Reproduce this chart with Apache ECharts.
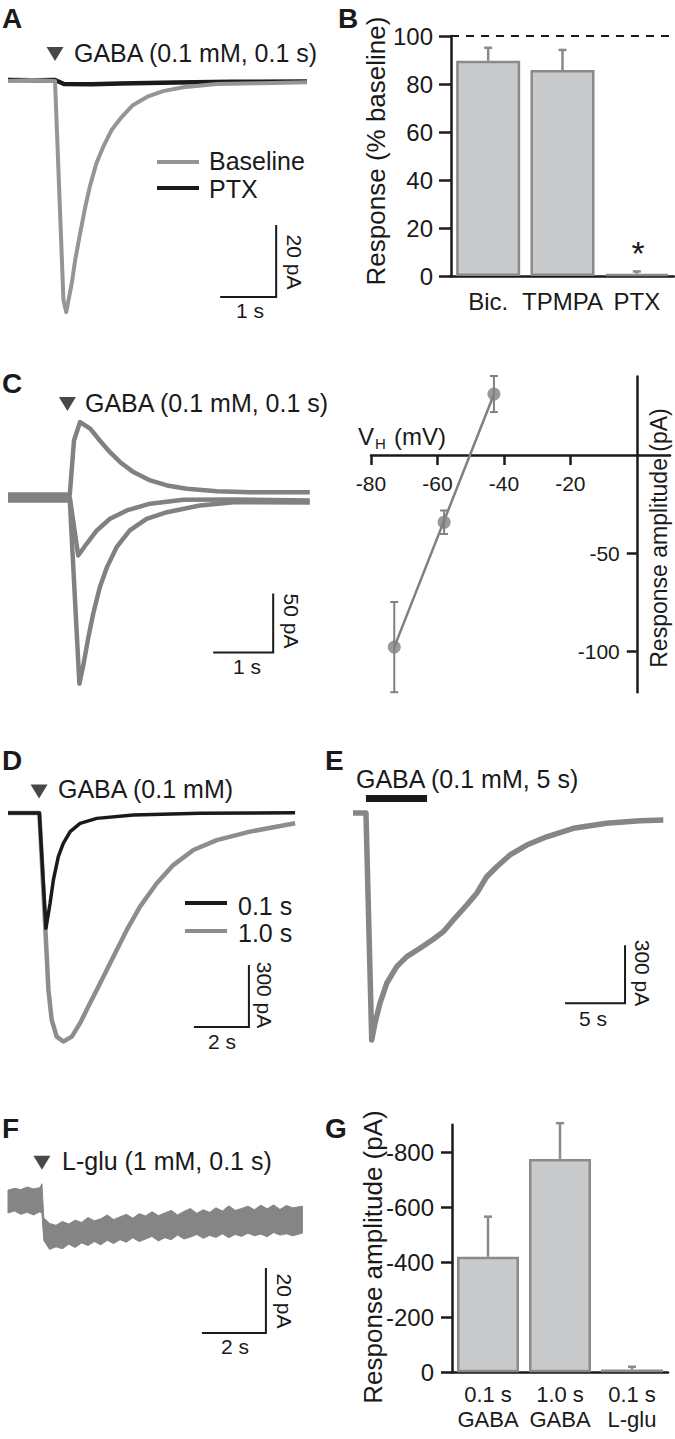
<!DOCTYPE html>
<html>
<head>
<meta charset="utf-8">
<title>GABA responses</title>
<script src="https://cdn.jsdelivr.net/npm/echarts@6/dist/echarts.min.js"></script>
<style>
  html, body { margin: 0; padding: 0; background: #fff; }
  #chart { width: 675px; height: 1439px; }
</style>
</head>
<body>
<div id="chart"></div>
<script>
// ---- data (time in s, current in pA) ----

// A: GABA 0.1 mM, 0.1 s - baseline vs PTX
const aBaseT = [0, 0.42, 0.84, 0.99, 1.04, 1.14, 1.2, 1.29, 1.38, 1.46, 1.58, 1.7, 1.85, 2.03, 2.23, 2.48, 2.77, 3.13, 3.73, 4.5, 5.34];
const aBaseI = [0, 0.3, 0, -60.8, -64.2, -56.1, -49.7, -42.2, -35, -29.4, -22.8, -18.3, -13.6, -10, -6.7, -4.4, -2.8, -1.7, -0.8, -0.6, -0.3];
const aPtxT = [0, 0.5, 0.84, 1.0, 1.5, 2.0, 3.0, 4.0, 5.34];
const aPtxI = [0.3, 0.2, 0.3, -0.8, -0.9, -0.7, -0.4, -0.2, -0.1];
const aStim = [0.84, 7.5];
const aScale = [4.79, -60, 1, 20]; // corner t, corner I, width (s), height (pA)

// B: % of baseline response
const bCats = ['Bic.', 'TPMPA', 'PTX'];
const bMean = [89.7, 85.8, 0.9];
const bErrTop = [95.1, 94.2, 1.9];

// C: responses at three holding potentials
const cUpT = [0, 1.03, 1.1, 1.2, 1.37, 1.53, 1.7, 1.87, 2.09, 2.37, 2.65, 2.98, 3.48, 4.03, 5.03];
const cUpI = [2.5, 2.5, 48.3, 63.9, 58.3, 48.3, 38.4, 29.9, 21.5, 14.4, 10.2, 7.4, 5.3, 4.5, 4.5];
const cMidT = [0, 1.03, 1.17, 1.31, 1.48, 1.7, 1.98, 2.37, 2.92, 3.76, 5.03];
const cMidI = [0, 0, -49.2, -39.3, -28, -18.1, -11, -5.3, -2, -1.7, -2.5];
const cLowT = [0, 1.03, 1.19, 1.26, 1.34, 1.42, 1.53, 1.65, 1.81, 2.03, 2.31, 2.65, 3.2, 3.76, 5.03];
const cLowI = [-2.5, -2.5, -158, -141, -118.5, -98.6, -76.1, -59.1, -42.2, -28, -18.1, -12.5, -6.8, -4, -4.2];
const cStim = [0.99, 79.3];
const cScale = [4.42, -131.5, 1, 50];

// C right: I-V relation
const ivV = [-73, -58, -43];
const ivI = [-98, -34.3, 31.1];
const ivErr = [23, 6, 9.2];
const fitV = [-73, -43];
const fitI = [-98, 31];
const ivTicksX = [-80, -60, -40, -20];
const ivTicksY = [-50, -100];

// D: 0.1 s vs 1.0 s application
const dShortT = [0, 1.14, 1.38, 1.53, 1.65, 1.83, 2.01, 2.26, 2.62, 3.23, 4.56, 6.98, 10.44];
const dShortI = [0, 0, -558, -437, -324, -211, -147, -90, -50, -26, -10, -1.5, 1.5];
const dLongT = [0, 1.14, 1.41, 1.47, 1.59, 1.77, 2.01, 2.32, 2.62, 2.98, 3.35, 3.83, 4.32, 4.8, 5.41, 6.01, 6.74, 7.59, 8.8, 10.44];
const dLongI = [0, 0, -695, -856, -1001, -1082, -1106, -1082, -1017, -921, -824, -695, -566, -453, -340, -252, -179, -131, -90, -50];
const dStim = [1.13, 104];
const dScale = [8.76, -1035, 2, 300];

// E: 5 s application
const eT = [0, 1.08, 1.56, 1.83, 2.25, 2.81, 3.64, 4.48, 5.58, 6.69, 7.53, 8.36, 9.48, 10.31, 11.14, 11.98, 13.08, 14.48, 16.14, 18.36, 21.14, 23.92, 25.86];
const eI = [0, 0, -1174, -1088, -984, -881, -795, -743, -700, -653, -614, -554, -476, -415, -330, -278, -217, -166, -123, -79, -53, -40, -36];
const ePuffT = [1.08, 6.17];
const ePuffI = [75, 75];
const eScale = [22.67, -984, 5, 300];

// F: L-glu, noisy trace given as upper / lower envelope
const fT = [0, 0.2, 0.4, 0.6, 0.8, 1.0, 1.06, 1.12, 1.3, 1.5, 1.7, 1.9, 2.1, 2.3, 2.5, 2.7, 2.9, 3.1, 3.3, 3.5, 3.7, 3.9, 4.1, 4.3, 4.5, 4.7, 4.9, 5.1, 5.3, 5.5, 5.7, 5.9, 6.1, 6.3, 6.5, 6.7, 6.9, 7.1, 7.3, 7.5, 7.7, 7.9, 8.1, 8.3, 8.5, 8.7, 8.9, 9.2];
const fHigh = [3.0, 3.6, 3.2, 4.0, 3.4, 3.8, 5.0, -5.5, -7.2, -7.8, -6.6, -7.4, -6.2, -6.9, -5.4, -6.4, -5.8, -4.6, -6.0, -5.2, -4.4, -5.6, -4.2, -4.9, -3.6, -4.8, -4.0, -3.2, -4.6, -3.5, -2.6, -4.1, -3.0, -3.8, -2.4, -3.4, -1.8, -3.2, -2.6, -1.9, -3.0, -1.6, -2.7, -1.5, -2.9, -1.7, -2.4, -1.9];
const fLow = [-4.0, -3.4, -4.4, -3.8, -4.6, -3.6, -4.2, -12.5, -15.2, -14.4, -15.0, -13.6, -14.6, -13.2, -14.0, -12.8, -13.8, -12.4, -13.4, -12.2, -13.0, -11.6, -12.8, -12.0, -11.2, -12.6, -11.6, -12.2, -10.8, -12.0, -11.4, -10.6, -11.8, -10.9, -11.5, -10.4, -11.6, -10.6, -11.2, -10.2, -11.0, -10.5, -11.3, -10.0, -10.8, -10.4, -11.0, -10.2];
const fStim = [1.06, 11.5];
const fScale = [8.06, -40.9, 2, 20];

// G: peak amplitudes
const gCats = ['0.1 s\nGABA', '1.0 s\nGABA', '0.1 s\nL-glu'];
const gMean = [-420, -776, -10];
const gErrTop = [-566, -906, -20];
const gTicks = [0, -200, -400, -600, -800];

// ---- styling ----
const FONT = 'Liberation Sans';
const INK = '#1a1a1a';
const A_GRAY = '#959595';
const C_GRAY = '#818181';
const D_GRAY = '#8d8d8d';
const E_GRAY = '#868686';
const F_GRAY = '#858585';
const IV_GRAY = '#808080';
const BAR_FILL = '#c9cacc';
const BAR_EDGE = '#8a8a8a';

const pairs = (xs, ys) => xs.map((x, i) => [x, ys[i]]);

function hiddenX(grid, min, max) {
  return { type: 'value', gridIndex: grid, min, max, show: false };
}
function hiddenY(grid, min, max) {
  return { type: 'value', gridIndex: grid, min, max, show: false };
}

function trace(grid, T, I, color, width) {
  return {
    type: 'line', xAxisIndex: grid, yAxisIndex: grid,
    data: pairs(T, I), symbol: 'none', showSymbol: false, silent: true,
    lineStyle: { color, width, join: 'round' }
  };
}

function scaleBar(grid, s) {
  const [t, i, w, h] = s;
  return {
    type: 'line', xAxisIndex: grid, yAxisIndex: grid,
    data: [[t - w, i], [t, i], [t, i + h]], symbol: 'none', silent: true,
    lineStyle: { color: INK, width: 2, join: 'miter', cap: 'butt' }
  };
}

function stim(grid, p) {
  return {
    type: 'scatter', xAxisIndex: grid, yAxisIndex: grid, data: [p],
    symbol: 'triangle', symbolRotate: 180, symbolSize: [17, 14],
    itemStyle: { color: INK }, clip: false, silent: true
  };
}

// upper error whisker with a cap, for the bar charts
function barErr(params, api) {
  const p0 = api.coord([api.value(0), api.value(1)]);
  const p1 = api.coord([api.value(0), api.value(2)]);
  const st = { stroke: BAR_EDGE, lineWidth: 2.5 };
  return {
    type: 'group', children: [
      { type: 'line', shape: { x1: p0[0], y1: p0[1], x2: p1[0], y2: p1[1] }, style: st },
      { type: 'line', shape: { x1: p1[0] - 4, y1: p1[1], x2: p1[0] + 4, y2: p1[1] }, style: st }
    ]
  };
}

// symmetric error bar for the I-V points
function ivErrItem(params, api) {
  const v = api.value(0), m = api.value(1), e = api.value(2);
  const top = api.coord([v, m + e]);
  const bot = api.coord([v, m - e]);
  const st = { stroke: IV_GRAY, lineWidth: 2 };
  return {
    type: 'group', children: [
      { type: 'line', shape: { x1: top[0], y1: top[1], x2: bot[0], y2: bot[1] }, style: st },
      { type: 'line', shape: { x1: top[0] - 4, y1: top[1], x2: top[0] + 4, y2: top[1] }, style: st },
      { type: 'line', shape: { x1: bot[0] - 4, y1: bot[1], x2: bot[0] + 4, y2: bot[1] }, style: st }
    ]
  };
}

// noisy L-glu trace: one polygon between the upper and lower envelope
function fBand(params, api) {
  if (params.dataIndex !== 0) return null;
  const top = fT.map((t, i) => api.coord([t, fHigh[i]]));
  const bot = fT.map((t, i) => api.coord([t, fLow[i]])).reverse();
  return {
    type: 'polygon',
    shape: { points: top.concat(bot) },
    style: { fill: F_GRAY, stroke: F_GRAY, lineWidth: 1 }
  };
}

// ---- free text, legends ----
const graphics = [];
function txt(x, y, text, size, opt) {
  opt = opt || {};
  graphics.push({
    type: 'text', x, y, rotation: opt.rot || 0, silent: true,
    style: {
      text, fill: INK, fontSize: size, fontFamily: FONT,
      fontWeight: opt.bold ? 'bold' : 'normal',
      align: opt.align || 'left', verticalAlign: 'middle'
    }
  });
}
function key(x1, x2, y, color) {
  graphics.push({
    type: 'line', silent: true,
    shape: { x1, y1: y, x2, y2: y },
    style: { stroke: color, lineWidth: 4 }
  });
}

const UP = Math.PI / 2;
const DOWN = -Math.PI / 2;

// panel letters
txt(2, 18, 'A', 28, { bold: true });
txt(338, 18, 'B', 28, { bold: true });
txt(2, 383, 'C', 28, { bold: true });
txt(2, 760, 'D', 28, { bold: true });
txt(325, 760, 'E', 28, { bold: true });
txt(2, 1128, 'F', 28, { bold: true });
txt(325, 1128, 'G', 28, { bold: true });

// stimulus annotations
txt(74, 53, 'GABA (0.1 mM, 0.1 s)', 25);
txt(85, 403, 'GABA (0.1 mM, 0.1 s)', 25);
txt(58, 789, 'GABA (0.1 mM)', 25);
txt(356, 779, 'GABA (0.1 mM, 5 s)', 25);
txt(62, 1161, 'L-glu (1 mM, 0.1 s)', 25);

// legends
key(157, 199, 162, A_GRAY);
txt(209, 161, 'Baseline', 25);
key(157, 199, 188, INK);
txt(209, 189, 'PTX', 25);
key(185, 227, 903, INK);
txt(238, 906, '0.1 s', 25);
key(185, 227, 931, D_GRAY);
txt(238, 933, '1.0 s', 25);

// scale bar labels
txt(294, 262, '20 pA', 21, { rot: DOWN, align: 'center' });
txt(250, 310, '1 s', 21, { align: 'center' });
txt(291, 621, '50 pA', 21, { rot: DOWN, align: 'center' });
txt(247, 666, '1 s', 21, { align: 'center' });
txt(264, 995, '300 pA', 21, { rot: DOWN, align: 'center' });
txt(222, 1041, '2 s', 21, { align: 'center' });
txt(642, 973, '300 pA', 21, { rot: DOWN, align: 'center' });
txt(593, 1018, '5 s', 21, { align: 'center' });
txt(284, 1301, '20 pA', 21, { rot: DOWN, align: 'center' });
txt(235, 1346, '2 s', 21, { align: 'center' });

// axis titles
txt(376, 151, 'Response (% baseline)', 26, { rot: UP, align: 'center' });
txt(373, 1257, 'Response amplitude (pA)', 26, { rot: UP, align: 'center' });
txt(659, 538, 'Response amplitude (pA)', 23, { rot: UP, align: 'center' });
txt(358, 436, 'V', 24);
txt(375, 443, 'H', 15);
txt(394, 436, '(mV)', 24);
txt(638, 253, '*', 34, { align: 'center' });

const axisLine = { show: true, lineStyle: { color: INK, width: 2.5 } };
const tickStyle = { color: INK, width: 2.5 };
const labelStyle = { color: INK, fontFamily: FONT, fontSize: 24 };

// I-V grid: the axes cross at (0 mV, 0 pA), set by offsets into the grid
const ivGrid = { left: 371, top: 376.6, width: 299, height: 315.6 };
const ivXMin = -80, ivXMax = 10, ivYMin = -121, ivYMax = 40;
const ivZeroX = ivGrid.width * (0 - ivXMin) / (ivXMax - ivXMin);
const ivZeroY = ivGrid.height * (ivYMax - 0) / (ivYMax - ivYMin);

const option = {
  animation: false,
  backgroundColor: '#fff',
  textStyle: { fontFamily: FONT, color: INK },
  grid: [
    { left: 8, top: 62, width: 304, height: 271 },          // 0 A
    { left: 451, top: 36, width: 223, height: 240 },        // 1 B
    { left: 8, top: 409, width: 304, height: 283 },         // 2 C traces
    ivGrid,                                                 // 3 C I-V
    { left: 8, top: 800.6, width: 290, height: 260.4 },     // 4 D
    { left: 353, top: 795.6, width: 312, height: 259 },     // 5 E
    { left: 8, top: 1180.5, width: 295, height: 165.75 },   // 6 F
    { left: 452, top: 1124.8, width: 216, height: 247.5 }   // 7 G
  ].map(g => Object.assign({ containLabel: false, outerBoundsMode: 'none' }, g)),
  xAxis: [
    hiddenX(0, 0, 5.43),
    {
      type: 'category', gridIndex: 1, data: bCats,
      axisLine, axisTick: { show: false },
      axisLabel: Object.assign({ margin: 13, interval: 0 }, labelStyle),
      splitLine: { show: false }
    },
    hiddenX(2, 0, 5.067),
    {
      type: 'value', gridIndex: 3, min: ivXMin, max: ivXMax, position: 'bottom',
      offset: -(ivGrid.height - ivZeroY),
      axisLine: { show: true, onZero: false, lineStyle: { color: INK, width: 2.5 } },
      axisTick: { show: true, length: 10, lineStyle: tickStyle, customValues: ivTicksX },
      axisLabel: { margin: 18, color: INK, fontFamily: FONT, fontSize: 21, customValues: ivTicksX },
      splitLine: { show: false }
    },
    hiddenX(4, 0, 10.545),
    hiddenX(5, 0, 26),
    hiddenX(6, 0, 9.219),
    {
      type: 'category', gridIndex: 7, data: gCats,
      axisLine, axisTick: { show: false },
      axisLabel: Object.assign({}, labelStyle, { margin: 10, interval: 0, fontSize: 22, lineHeight: 25 }),
      splitLine: { show: false }
    }
  ],
  yAxis: [
    hiddenY(0, -70, 5.3),
    {
      type: 'value', gridIndex: 1, min: 0, max: 100, interval: 20,
      axisLine, axisTick: { show: true, length: 12, lineStyle: tickStyle },
      axisLabel: Object.assign({ margin: 18 }, labelStyle),
      splitLine: { show: false }
    },
    hiddenY(2, -165, 75),
    {
      type: 'value', gridIndex: 3, min: ivYMin, max: ivYMax, position: 'left',
      offset: -ivZeroX,
      axisLine: { show: true, onZero: false, lineStyle: { color: INK, width: 2.5 } },
      axisTick: { show: true, length: 10, lineStyle: tickStyle, customValues: ivTicksY },
      axisLabel: { margin: 17, color: INK, fontFamily: FONT, fontSize: 21, customValues: ivTicksY },
      splitLine: { show: false }
    },
    hiddenY(4, -1200, 60),
    hiddenY(5, -1250, 90),
    hiddenY(6, -45, 6),
    {
      type: 'value', gridIndex: 7, min: -900, max: 0, inverse: true,
      axisLine, axisTick: { show: true, length: 11, lineStyle: tickStyle, customValues: gTicks },
      axisLabel: Object.assign({ margin: 18, customValues: gTicks }, labelStyle),
      splitLine: { show: false }
    }
  ],
  series: [
    // A
    trace(0, aPtxT, aPtxI, INK, 4.5),
    trace(0, aBaseT, aBaseI, A_GRAY, 4),
    scaleBar(0, aScale),
    stim(0, aStim),

    // B
    {
      type: 'bar', xAxisIndex: 1, yAxisIndex: 1, data: bMean, barWidth: 64, silent: true,
      itemStyle: { color: BAR_FILL, borderColor: BAR_EDGE, borderWidth: 2.5 },
      markLine: {
        silent: true, symbol: 'none', label: { show: false },
        lineStyle: { color: INK, width: 2, type: [8, 7] },
        data: [{ yAxis: 100 }]
      }
    },
    {
      type: 'custom', xAxisIndex: 1, yAxisIndex: 1, renderItem: barErr, silent: true,
      encode: { x: 0, y: [1, 2] },
      data: bMean.map((m, i) => [i, m, bErrTop[i]])
    },

    // C traces
    trace(2, cUpT, cUpI, C_GRAY, 4.5),
    trace(2, cMidT, cMidI, C_GRAY, 4.5),
    trace(2, cLowT, cLowI, C_GRAY, 4.5),
    scaleBar(2, cScale),
    stim(2, cStim),

    // C I-V
    {
      type: 'line', xAxisIndex: 3, yAxisIndex: 3, data: pairs(fitV, fitI),
      symbol: 'none', silent: true, lineStyle: { color: IV_GRAY, width: 2.5 }
    },
    {
      type: 'custom', xAxisIndex: 3, yAxisIndex: 3, renderItem: ivErrItem, silent: true,
      encode: { x: 0, y: 1 },
      data: ivV.map((v, i) => [v, ivI[i], ivErr[i]])
    },
    {
      type: 'scatter', xAxisIndex: 3, yAxisIndex: 3, data: pairs(ivV, ivI),
      symbolSize: 13, silent: true, itemStyle: { color: IV_GRAY }
    },

    // D
    trace(4, dLongT, dLongI, D_GRAY, 4.5),
    trace(4, dShortT, dShortI, INK, 3.5),
    scaleBar(4, dScale),
    stim(4, dStim),

    // E
    trace(5, eT, eI, E_GRAY, 5.5),
    {
      type: 'line', xAxisIndex: 5, yAxisIndex: 5, data: pairs(ePuffT, ePuffI),
      symbol: 'none', silent: true, lineStyle: { color: INK, width: 7, cap: 'butt' }
    },
    scaleBar(5, eScale),

    // F
    {
      type: 'custom', xAxisIndex: 6, yAxisIndex: 6, renderItem: fBand, silent: true,
      encode: { x: 0, y: [1, 2] },
      data: fT.map((t, i) => [t, fHigh[i], fLow[i]])
    },
    scaleBar(6, fScale),
    stim(6, fStim),

    // G
    {
      type: 'bar', xAxisIndex: 7, yAxisIndex: 7, data: gMean, barWidth: 62, silent: true,
      itemStyle: { color: BAR_FILL, borderColor: BAR_EDGE, borderWidth: 2.5 }
    },
    {
      type: 'custom', xAxisIndex: 7, yAxisIndex: 7, renderItem: barErr, silent: true,
      encode: { x: 0, y: [1, 2] },
      data: gMean.map((m, i) => [i, m, gErrTop[i]])
    }
  ],
  graphic: graphics
};

const chart = echarts.init(document.getElementById('chart'), null, { renderer: 'svg' });
chart.setOption(option);
</script>
</body>
</html>
